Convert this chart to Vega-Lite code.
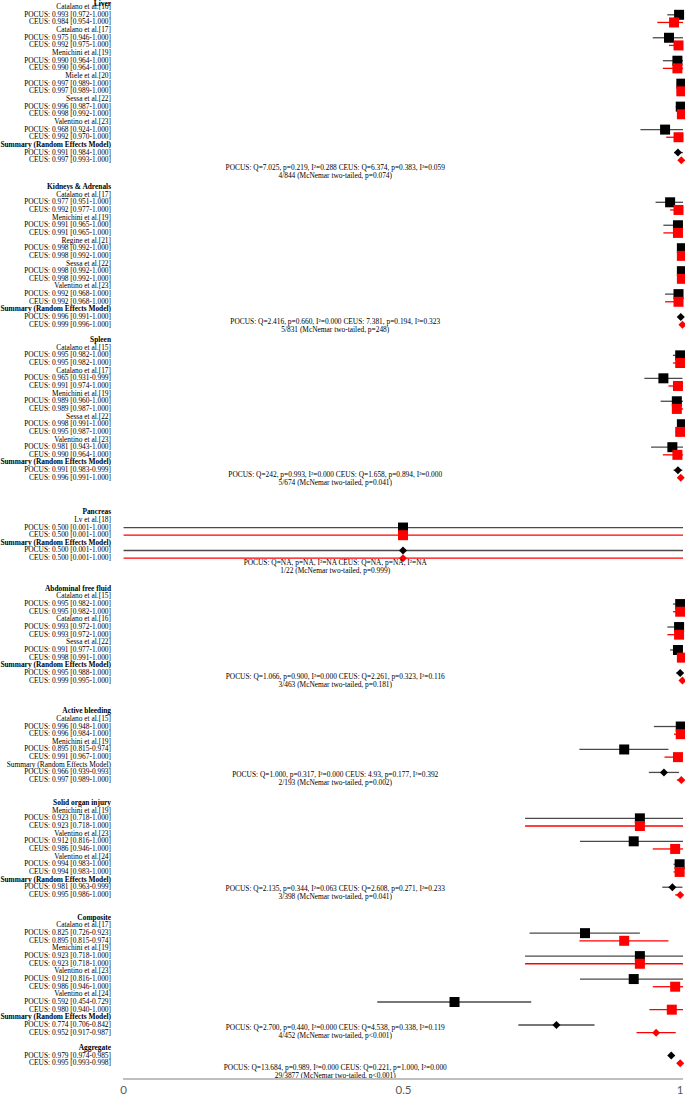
{
"$schema":"https://vega.github.io/schema/vega-lite/v6.json",
"width":685,"height":1080,
"autosize":{"type":"none"},
"padding":{"left":0,"top":0,"right":0,"bottom":19},
"background":"white",
"config":{"view":{"stroke":null}},
"data":{"values":[
{"row":-0.4,"label":"Liver","kind":"outcome"},
{"row":0,"label":"Catalano et al.[16]","kind":"study"},
{"row":1,"label":"POCUS: 0.993 [0.972-1.000]","kind":"est","method":"POCUS","level":"study","est":0.993,"lo":0.972,"hi":1.0},
{"row":2,"label":"CEUS: 0.984 [0.954-1.000]","kind":"est","method":"CEUS","level":"study","est":0.984,"lo":0.954,"hi":1.0},
{"row":3,"label":"Catalano et al.[17]","kind":"study"},
{"row":4,"label":"POCUS: 0.975 [0.946-1.000]","kind":"est","method":"POCUS","level":"study","est":0.975,"lo":0.946,"hi":1.0},
{"row":5,"label":"CEUS: 0.992 [0.975-1.000]","kind":"est","method":"CEUS","level":"study","est":0.992,"lo":0.975,"hi":1.0},
{"row":6,"label":"Menichini et al.[19]","kind":"study"},
{"row":7,"label":"POCUS: 0.990 [0.964-1.000]","kind":"est","method":"POCUS","level":"study","est":0.990,"lo":0.964,"hi":1.0},
{"row":8,"label":"CEUS: 0.990 [0.964-1.000]","kind":"est","method":"CEUS","level":"study","est":0.990,"lo":0.964,"hi":1.0},
{"row":9,"label":"Miele et al.[20]","kind":"study"},
{"row":10,"label":"POCUS: 0.997 [0.989-1.000]","kind":"est","method":"POCUS","level":"study","est":0.997,"lo":0.989,"hi":1.0},
{"row":11,"label":"CEUS: 0.997 [0.989-1.000]","kind":"est","method":"CEUS","level":"study","est":0.997,"lo":0.989,"hi":1.0},
{"row":12,"label":"Sessa et al.[22]","kind":"study"},
{"row":13,"label":"POCUS: 0.996 [0.987-1.000]","kind":"est","method":"POCUS","level":"study","est":0.996,"lo":0.987,"hi":1.0},
{"row":14,"label":"CEUS: 0.998 [0.992-1.000]","kind":"est","method":"CEUS","level":"study","est":0.998,"lo":0.992,"hi":1.0},
{"row":15,"label":"Valentino et al.[23]","kind":"study"},
{"row":16,"label":"POCUS: 0.968 [0.924-1.000]","kind":"est","method":"POCUS","level":"study","est":0.968,"lo":0.924,"hi":1.0},
{"row":17,"label":"CEUS: 0.992 [0.970-1.000]","kind":"est","method":"CEUS","level":"study","est":0.992,"lo":0.970,"hi":1.0},
{"row":18,"label":"Summary (Random Effects Model)","kind":"model"},
{"row":19,"label":"POCUS: 0.991 [0.984-1.000]","kind":"est","method":"POCUS","level":"summary","est":0.991,"lo":0.984,"hi":1.0},
{"row":20,"label":"CEUS: 0.997 [0.993-1.000]","kind":"est","method":"CEUS","level":"summary","est":0.997,"lo":0.993,"hi":1.0},
{"row":21,"label":"POCUS: Q=7.025, p=0.219, I²=0.288  CEUS: Q=6.374, p=0.383, I²=0.059","kind":"stat"},
{"row":22,"label":"4/844 (McNemar two-tailed, p=0.074)","kind":"stat"},

{"row":23.5,"label":"Kidneys & Adrenals","kind":"outcome"},
{"row":24.5,"label":"Catalano et al.[17]","kind":"study"},
{"row":25.5,"label":"POCUS: 0.977 [0.951-1.000]","kind":"est","method":"POCUS","level":"study","est":0.977,"lo":0.951,"hi":1.0},
{"row":26.5,"label":"CEUS: 0.992 [0.977-1.000]","kind":"est","method":"CEUS","level":"study","est":0.992,"lo":0.977,"hi":1.0},
{"row":27.5,"label":"Menichini et al.[19]","kind":"study"},
{"row":28.5,"label":"POCUS: 0.991 [0.965-1.000]","kind":"est","method":"POCUS","level":"study","est":0.991,"lo":0.965,"hi":1.0},
{"row":29.5,"label":"CEUS: 0.991 [0.965-1.000]","kind":"est","method":"CEUS","level":"study","est":0.991,"lo":0.965,"hi":1.0},
{"row":30.5,"label":"Regine et al.[21]","kind":"study"},
{"row":31.5,"label":"POCUS: 0.998 [0.992-1.000]","kind":"est","method":"POCUS","level":"study","est":0.998,"lo":0.992,"hi":1.0},
{"row":32.5,"label":"CEUS: 0.998 [0.992-1.000]","kind":"est","method":"CEUS","level":"study","est":0.998,"lo":0.992,"hi":1.0},
{"row":33.5,"label":"Sessa et al.[22]","kind":"study"},
{"row":34.5,"label":"POCUS: 0.998 [0.992-1.000]","kind":"est","method":"POCUS","level":"study","est":0.998,"lo":0.992,"hi":1.0},
{"row":35.5,"label":"CEUS: 0.998 [0.992-1.000]","kind":"est","method":"CEUS","level":"study","est":0.998,"lo":0.992,"hi":1.0},
{"row":36.5,"label":"Valentino et al.[23]","kind":"study"},
{"row":37.5,"label":"POCUS: 0.992 [0.968-1.000]","kind":"est","method":"POCUS","level":"study","est":0.992,"lo":0.968,"hi":1.0},
{"row":38.5,"label":"CEUS: 0.992 [0.968-1.000]","kind":"est","method":"CEUS","level":"study","est":0.992,"lo":0.968,"hi":1.0},
{"row":39.5,"label":"Summary (Random Effects Model)","kind":"model"},
{"row":40.5,"label":"POCUS: 0.996 [0.991-1.000]","kind":"est","method":"POCUS","level":"summary","est":0.996,"lo":0.991,"hi":1.0},
{"row":41.5,"label":"CEUS: 0.999 [0.996-1.000]","kind":"est","method":"CEUS","level":"summary","est":0.999,"lo":0.996,"hi":1.0},
{"row":41.2,"label":"POCUS: Q=2.416, p=0.660, I²=0.000  CEUS: 7.381, p=0.194, I²=0.323","kind":"stat"},
{"row":42.2,"label":"5/831 (McNemar two-tailed, p=248)","kind":"stat"},

{"row":43.5,"label":"Spleen","kind":"outcome"},
{"row":44.5,"label":"Catalano et al.[15]","kind":"study"},
{"row":45.5,"label":"POCUS: 0.995 [0.982-1.000]","kind":"est","method":"POCUS","level":"study","est":0.995,"lo":0.982,"hi":1.0},
{"row":46.5,"label":"CEUS: 0.995 [0.982-1.000]","kind":"est","method":"CEUS","level":"study","est":0.995,"lo":0.982,"hi":1.0},
{"row":47.5,"label":"Catalano et al.[17]","kind":"study"},
{"row":48.5,"label":"POCUS: 0.965 [0.931-0.999]","kind":"est","method":"POCUS","level":"study","est":0.965,"lo":0.931,"hi":0.999},
{"row":49.5,"label":"CEUS: 0.991 [0.974-1.000]","kind":"est","method":"CEUS","level":"study","est":0.991,"lo":0.974,"hi":1.0},
{"row":50.5,"label":"Menichini et al.[19]","kind":"study"},
{"row":51.5,"label":"POCUS:  0.989 [0.960-1.000]","kind":"est","method":"POCUS","level":"study","est":0.989,"lo":0.960,"hi":1.0},
{"row":52.5,"label":"CEUS:  0.989 [0.987-1.000]","kind":"est","method":"CEUS","level":"study","est":0.989,"lo":0.987,"hi":1.0},
{"row":53.5,"label":"Sessa et al.[22]","kind":"study"},
{"row":54.5,"label":"POCUS: 0.998 [0.991-1.000]","kind":"est","method":"POCUS","level":"study","est":0.998,"lo":0.991,"hi":1.0},
{"row":55.5,"label":"CEUS: 0.995 [0.987-1.000]","kind":"est","method":"CEUS","level":"study","est":0.995,"lo":0.987,"hi":1.0},
{"row":56.5,"label":"Valentino et al.[23]","kind":"study"},
{"row":57.5,"label":"POCUS: 0.981 [0.943-1.000]","kind":"est","method":"POCUS","level":"study","est":0.981,"lo":0.943,"hi":1.0},
{"row":58.5,"label":"CEUS: 0.990 [0.964-1.000]","kind":"est","method":"CEUS","level":"study","est":0.990,"lo":0.964,"hi":1.0},
{"row":59.5,"label":"Summary (Random Effects Model)","kind":"model"},
{"row":60.5,"label":"POCUS: 0.991 [0.983-0.999]","kind":"est","method":"POCUS","level":"summary","est":0.991,"lo":0.983,"hi":0.999},
{"row":61.5,"label":"CEUS: 0.996 [0.991-1.000]","kind":"est","method":"CEUS","level":"summary","est":0.996,"lo":0.991,"hi":1.0},
{"row":61.1,"label":"POCUS: Q=242, p=0.993, I²=0.000  CEUS: Q=1.658, p=0.894, I²=0.000","kind":"stat"},
{"row":62.2,"label":"5/674 (McNemar two-tailed, p=0.041)","kind":"stat"},

{"row":66,"label":"Pancreas","kind":"outcome"},
{"row":67,"label":"Lv et al.[18]","kind":"study"},
{"row":68,"label":"POCUS: 0.500 [0.001-1.000]","kind":"est","method":"POCUS","level":"study","est":0.5,"lo":0.001,"hi":1.0},
{"row":69,"label":"CEUS: 0.500 [0.001-1.000]","kind":"est","method":"CEUS","level":"study","est":0.5,"lo":0.001,"hi":1.0},
{"row":70,"label":"Summary (Random Effects Model)","kind":"model"},
{"row":71,"label":"POCUS: 0.500 [0.001-1.000]","kind":"est","method":"POCUS","level":"summary","est":0.5,"lo":0.001,"hi":1.0},
{"row":72,"label":"CEUS: 0.500 [0.001-1.000]","kind":"est","method":"CEUS","level":"summary","est":0.5,"lo":0.001,"hi":1.0},
{"row":72.6,"label":"POCUS: Q=NA, p=NA, I²=NA  CEUS: Q=NA, p=NA, I²=NA","kind":"stat"},
{"row":73.7,"label":"1/22 (McNemar two-tailed, p=0.999)","kind":"stat"},

{"row":76,"label":"Abdominal free fluid","kind":"outcome"},
{"row":77,"label":"Catalano et al.[15]","kind":"study"},
{"row":78,"label":"POCUS: 0.995 [0.982-1.000]","kind":"est","method":"POCUS","level":"study","est":0.995,"lo":0.982,"hi":1.0},
{"row":79,"label":"CEUS: 0.995 [0.982-1.000]","kind":"est","method":"CEUS","level":"study","est":0.995,"lo":0.982,"hi":1.0},
{"row":80,"label":"Catalano et al.[16]","kind":"study"},
{"row":81,"label":"POCUS: 0.993 [0.972-1.000]","kind":"est","method":"POCUS","level":"study","est":0.993,"lo":0.972,"hi":1.0},
{"row":82,"label":"CEUS: 0.993 [0.972-1.000]","kind":"est","method":"CEUS","level":"study","est":0.993,"lo":0.972,"hi":1.0},
{"row":83,"label":"Sessa et al.[22]","kind":"study"},
{"row":84,"label":"POCUS: 0.991 [0.977-1.000]","kind":"est","method":"POCUS","level":"study","est":0.991,"lo":0.977,"hi":1.0},
{"row":85,"label":"CEUS: 0.998 [0.991-1.000]","kind":"est","method":"CEUS","level":"study","est":0.998,"lo":0.991,"hi":1.0},
{"row":86,"label":"Summary (Random Effects Model)","kind":"model"},
{"row":87,"label":"POCUS: 0.995 [0.988-1.000]","kind":"est","method":"POCUS","level":"summary","est":0.995,"lo":0.988,"hi":1.0},
{"row":88,"label":"CEUS: 0.999 [0.995-1.000]","kind":"est","method":"CEUS","level":"summary","est":0.999,"lo":0.995,"hi":1.0},
{"row":87.5,"label":"POCUS: Q=1.066, p=0.900, I²=0.000  CEUS: Q=2.261, p=0.323, I²=0.116","kind":"stat"},
{"row":88.6,"label":"3/463 (McNemar two-tailed, p=0.181)","kind":"stat"},

{"row":92,"label":"Active bleeding","kind":"outcome"},
{"row":93,"label":"Catalano et al.[15]","kind":"study"},
{"row":94,"label":"POCUS: 0.996 [0.948-1.000]","kind":"est","method":"POCUS","level":"study","est":0.996,"lo":0.948,"hi":1.0},
{"row":95,"label":"CEUS: 0.996 [0.984-1.000]","kind":"est","method":"CEUS","level":"study","est":0.996,"lo":0.984,"hi":1.0},
{"row":96,"label":"Menichini et al.[19]","kind":"study"},
{"row":97,"label":"POCUS:  0.895 [0.815-0.974]","kind":"est","method":"POCUS","level":"study","est":0.895,"lo":0.815,"hi":0.974},
{"row":98,"label":"CEUS: 0.991 [0.967-1.000]","kind":"est","method":"CEUS","level":"study","est":0.991,"lo":0.967,"hi":1.0},
{"row":99,"label":"Summary (Random Effects Model)","kind":"model-plain"},
{"row":100,"label":"POCUS: 0.966 [0.939-0.993]","kind":"est","method":"POCUS","level":"summary","est":0.966,"lo":0.939,"hi":0.993},
{"row":101,"label":"CEUS: 0.997 [0.989-1.000]","kind":"est","method":"CEUS","level":"summary","est":0.997,"lo":0.989,"hi":1.0},
{"row":100.3,"label":"POCUS: Q=1.000, p=0.317, I²=0.000  CEUS: 4.93, p=0.177, I²=0.392","kind":"stat"},
{"row":101.4,"label":"2/193 (McNemar two-tailed, p=0.002)","kind":"stat"},

{"row":104,"label":"Solid organ injury","kind":"outcome"},
{"row":105,"label":"Menichini et al.[19]","kind":"study"},
{"row":106,"label":"POCUS: 0.923 [0.718-1.000]","kind":"est","method":"POCUS","level":"study","est":0.923,"lo":0.718,"hi":1.0},
{"row":107,"label":"CEUS: 0.923 [0.718-1.000]","kind":"est","method":"CEUS","level":"study","est":0.923,"lo":0.718,"hi":1.0},
{"row":108,"label":"Valentino et al.[23]","kind":"study"},
{"row":109,"label":"POCUS: 0.912 [0.816-1.000]","kind":"est","method":"POCUS","level":"study","est":0.912,"lo":0.816,"hi":1.0},
{"row":110,"label":"CEUS: 0.986 [0.946-1.000]","kind":"est","method":"CEUS","level":"study","est":0.986,"lo":0.946,"hi":1.0},
{"row":111,"label":"Valentino et al.[24]","kind":"study"},
{"row":112,"label":"POCUS: 0.994 [0.983-1.000]","kind":"est","method":"POCUS","level":"study","est":0.994,"lo":0.983,"hi":1.0},
{"row":113,"label":"CEUS: 0.994 [0.983-1.000]","kind":"est","method":"CEUS","level":"study","est":0.994,"lo":0.983,"hi":1.0},
{"row":114,"label":"Summary (Random Effects Model)","kind":"model"},
{"row":115,"label":"POCUS: 0.981 [0.963-0.999]","kind":"est","method":"POCUS","level":"summary","est":0.981,"lo":0.963,"hi":0.999},
{"row":116,"label":"CEUS: 0.995 [0.986-1.000]","kind":"est","method":"CEUS","level":"summary","est":0.995,"lo":0.986,"hi":1.0},
{"row":115.2,"label":"POCUS: Q=2.135, p=0.344, I²=0.063  CEUS: Q=2.608, p=0.271, I²=0.233","kind":"stat"},
{"row":116.3,"label":"3/398 (McNemar two-tailed, p=0.041)","kind":"stat"},

{"row":119,"label":"Composite","kind":"outcome"},
{"row":120,"label":"Catalano et al.[17]","kind":"study"},
{"row":121,"label":"POCUS: 0.825 [0.726-0.923]","kind":"est","method":"POCUS","level":"study","est":0.825,"lo":0.726,"hi":0.923},
{"row":122,"label":"CEUS: 0.895 [0.815-0.974]","kind":"est","method":"CEUS","level":"study","est":0.895,"lo":0.815,"hi":0.974},
{"row":123,"label":"Menichini et al.[19]","kind":"study"},
{"row":124,"label":"POCUS: 0.923 [0.718-1.000]","kind":"est","method":"POCUS","level":"study","est":0.923,"lo":0.718,"hi":1.0},
{"row":125,"label":"CEUS: 0.923 [0.718-1.000]","kind":"est","method":"CEUS","level":"study","est":0.923,"lo":0.718,"hi":1.0},
{"row":126,"label":"Valentino et al.[23]","kind":"study"},
{"row":127,"label":"POCUS: 0.912 [0.816-1.000]","kind":"est","method":"POCUS","level":"study","est":0.912,"lo":0.816,"hi":1.0},
{"row":128,"label":"CEUS: 0.986 [0.946-1.000]","kind":"est","method":"CEUS","level":"study","est":0.986,"lo":0.946,"hi":1.0},
{"row":129,"label":"Valentino et al.[24]","kind":"study"},
{"row":130,"label":"POCUS: 0.592 [0.454-0.729]","kind":"est","method":"POCUS","level":"study","est":0.592,"lo":0.454,"hi":0.729},
{"row":131,"label":"CEUS: 0.980 [0.940-1.000]","kind":"est","method":"CEUS","level":"study","est":0.980,"lo":0.940,"hi":1.0},
{"row":132,"label":"Summary (Random Effects Model)","kind":"model"},
{"row":133,"label":"POCUS: 0.774 [0.706-0.842]","kind":"est","method":"POCUS","level":"summary","est":0.774,"lo":0.706,"hi":0.842},
{"row":134,"label":"CEUS: 0.952 [0.917-0.987]","kind":"est","method":"CEUS","level":"summary","est":0.952,"lo":0.917,"hi":0.987},
{"row":133.4,"label":"POCUS: Q=2.700, p=0.440, I²=0.000  CEUS: Q=4.538, p=0.338, I²=0.119","kind":"stat"},
{"row":134.4,"label":"4/452 (McNemar two-tailed, p<0.001)","kind":"stat"},

{"row":136,"label":"Aggregate","kind":"outcome"},
{"row":137,"label":"POCUS: 0.979 [0.974-0.985]","kind":"est","method":"POCUS","level":"summary","est":0.979,"lo":0.974,"hi":0.985},
{"row":138,"label":"CEUS: 0.995 [0.993-0.998]","kind":"est","method":"CEUS","level":"summary","est":0.995,"lo":0.993,"hi":0.998},
{"row":138.6,"label":"POCUS: Q=13.684, p=0.989, I²=0.000  CEUS: Q=0.221, p=1.000, I²=0.000","kind":"stat"},
{"row":139.7,"label":"29/3877 (McNemar two-tailed, p<0.001)","kind":"stat"}
]},
"layer":[
{"mark":{"type":"rule","strokeWidth":1.3},
 "transform":[{"filter":{"field":"est","valid":true}}],
 "encoding":{
  "x":{"field":"lo","type":"quantitative","scale":{"domain":[-0.219643,1.003571],"nice":false,"zero":false},
       "axis":{"values":[0,0.5,1],"format":"~g","title":null,"grid":false,"domain":false,"ticks":false,"tickSize":0,"labelPadding":4,"labelFont":"Lato","labelFontSize":11.5,"labelColor":"#595959","labelFlush":false,"labelBound":false,
               "labelAlign":{"condition":{"test":"datum.value === 1","value":"right"},"value":"center"}}},
  "x2":{"field":"hi"},
  "y":{"field":"row","type":"quantitative","scale":{"domain":[-0.934,140.19],"reverse":true,"nice":false,"zero":false},"axis":null},
  "stroke":{"field":"method","type":"nominal","scale":{"domain":["POCUS","CEUS"],"range":["#4a4a4a","#ff0000"]},"legend":null}
 }},
{"mark":{"type":"point","filled":true,"opacity":1,"strokeWidth":0},
 "transform":[{"filter":{"field":"est","valid":true}}],
 "encoding":{
  "x":{"field":"est","type":"quantitative"},
  "y":{"field":"row","type":"quantitative"},
  "fill":{"field":"method","type":"nominal","scale":{"domain":["POCUS","CEUS"],"range":["#000000","#ff0000"]},"legend":null},
  "shape":{"field":"level","type":"nominal","scale":{"domain":["study","summary"],"range":["square","diamond"]},"legend":null},
  "size":{"field":"level","type":"nominal","scale":{"domain":["study","summary"],"range":[100,64]},"legend":null}
 }},
{"mark":{"type":"text","align":"right","baseline":"middle","font":"Liberation Serif","fontSize":7.4,"color":"#000000"},
 "transform":[{"filter":"datum.kind === 'study' || datum.kind === 'est' || datum.kind === 'model-plain'"}],
 "encoding":{
  "x":{"datum":-0.0214,"type":"quantitative"},
  "y":{"field":"row","type":"quantitative"},
  "text":{"field":"label"}
 }},
{"mark":{"type":"text","align":"right","baseline":"middle","font":"Liberation Serif","fontSize":7.4,"fontWeight":"bold","color":"#000000"},
 "transform":[{"filter":"datum.kind === 'outcome' || datum.kind === 'model'"}],
 "encoding":{
  "x":{"datum":-0.0214,"type":"quantitative"},
  "y":{"field":"row","type":"quantitative"},
  "text":{"field":"label"}
 }},
{"mark":{"type":"text","align":"center","baseline":"middle","font":"Liberation Serif","fontSize":7.4,"color":"#000000"},
 "transform":[{"filter":"datum.kind === 'stat'"}],
 "encoding":{
  "x":{"datum":0.379,"type":"quantitative"},
  "y":{"field":"row","type":"quantitative"},
  "text":{"field":"label"}
 }},
{"mark":{"type":"rule","color":"#bfbfbf","strokeWidth":1.5},
 "encoding":{
  "x":{"datum":0,"type":"quantitative"},
  "x2":{"datum":1},
  "y":{"datum":140.06,"type":"quantitative"}
 }}
]
}
